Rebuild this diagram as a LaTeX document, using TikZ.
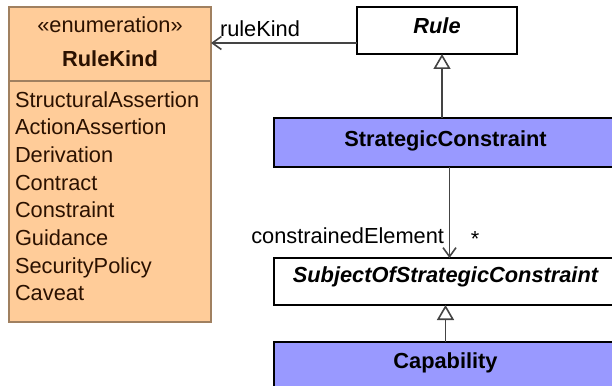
\documentclass[tikz,border=0pt]{standalone}
\usepackage{fontspec}
\setmainfont{Liberation Sans}
\usetikzlibrary{arrows.meta}
\definecolor{enumfill}{HTML}{FFCC99}
\definecolor{enumline}{HTML}{A08060}
\definecolor{enumtext}{HTML}{2B1100}
\definecolor{blockblue}{HTML}{9999FF}
\definecolor{conn}{HTML}{444444}
\begin{document}
\begin{tikzpicture}[x=1pt,y=-1pt,
  every node/.style={inner sep=0pt, outer sep=0pt, font=\fontsize{21.8}{27.7}\selectfont},
  classbox/.style={draw=black, line width=1.6pt, fill=white, anchor=north west},
  bluebox/.style={classbox, fill=blockblue},
  enumbox/.style={draw=enumline, line width=1.6pt, fill=enumfill, anchor=north west},
  lit/.style={anchor=base west, text=enumtext},
  lbl/.style={anchor=base},
  assoc/.style={draw=conn, line width=1.7pt, -{Straight Barb[length=9pt,width=13pt,line width=1.6pt]}},
  gen/.style={draw=conn, line width=1.7pt, -{Triangle[open,length=15pt,width=17pt,line width=1.6pt,fill=white]}}
]
\useasboundingbox (0,0) rectangle (612,385);
\clip (0,0) rectangle (612,385);

% enumeration
\node[enumbox, minimum width=202pt, minimum height=315pt] (enum) at (9,7) {};
\coordinate (divl) at (9,81);
\draw[enumline, line width=1.6pt] (divl) -- (divl -| enum.east);
\node[lbl, text=enumtext] (stereo) at (110,33) {«enumeration»};
\node[lbl, text=enumtext, font=\fontsize{21.8}{27.7}\selectfont\bfseries] (enumname) at (110,67) {RuleKind};
\node[lit] (l1) at (15,107) {StructuralAssertion};
\node[lit] (l2) at (15,134.7) {ActionAssertion};
\node[lit] (l3) at (15,162.4) {Derivation};
\node[lit] (l4) at (15,190.1) {Contract};
\node[lit] (l5) at (15,217.8) {Constraint};
\node[lit] (l6) at (15,245.5) {Guidance};
\node[lit] (l7) at (15,273.2) {SecurityPolicy};
\node[lit] (l8) at (15,300.9) {Caveat};

% classes
\node[classbox, minimum width=160pt, minimum height=47pt] (rule) at (357,7) {};
\node[lbl, font=\fontsize{21.8}{27.7}\selectfont\bfseries\itshape] (ruletxt) at (437,33.5) {Rule};

\node[bluebox, minimum width=343pt, minimum height=49pt] (strat) at (274,118) {};
\node[lbl, font=\fontsize{21.8}{27.7}\selectfont\bfseries] (strattxt) at (445.5,146) {StrategicConstraint};

\node[classbox, minimum width=343pt, minimum height=47pt] (subj) at (274,258) {};
\node[lbl, font=\fontsize{21.8}{27.7}\selectfont\bfseries\itshape] (subjtxt) at (445.5,282) {SubjectOfStrategicConstraint};

\node[bluebox, minimum width=343pt, minimum height=60pt] (cap) at (274,342) {};
\node[lbl, font=\fontsize{21.8}{27.7}\selectfont\bfseries] (captxt) at (445.5,368) {Capability};

% connectors
\coordinate (rk) at ([yshift=11pt]rule.south west);
\draw[assoc] (rk) -- (rk -| enum.east);
\node[anchor=base west] (rklbl) at (220,37) {ruleKind};

\coordinate (g1) at ([xshift=5pt]rule.south);
\draw[gen] (g1 |- strat.north) -- (g1);

\coordinate (a1) at ([xshift=4pt]strat.south);
\draw[assoc] (a1) -- (a1 |- subj.north);
\node[anchor=base east] (celbl) at (444,243) {constrainedElement};
\node[anchor=base] (mult) at (475,246) {*};

\draw[gen] (cap.north) -- (subj.south);
\end{tikzpicture}
\end{document}
